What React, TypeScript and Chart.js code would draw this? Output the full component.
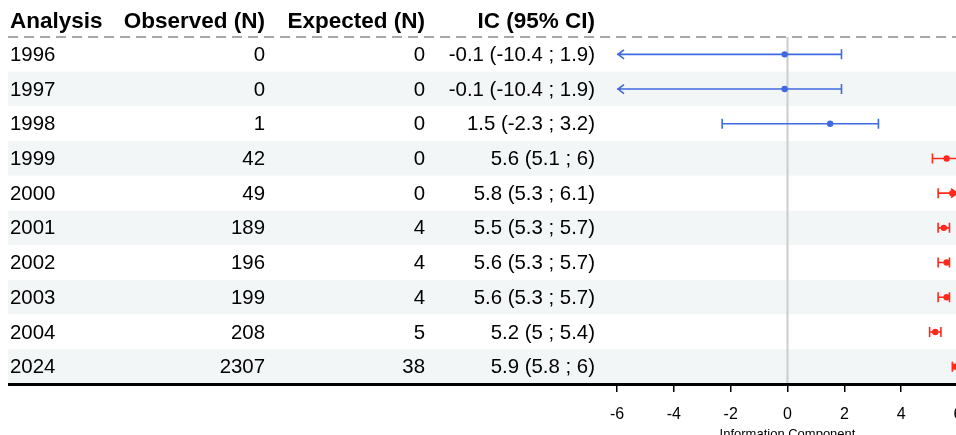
import React, { useEffect, useRef } from 'react';
import { Chart, registerables } from 'chart.js';

Chart.register(...registerables);

// ---- data ----
const years = ['1996', '1997', '1998', '1999', '2000', '2001', '2002', '2003', '2004', '2024'];
const observed = [0, 0, 1, 42, 49, 189, 196, 199, 208, 2307];
const expected = [0, 0, 0, 0, 0, 4, 4, 4, 5, 38];
const ic = [-0.1, -0.1, 1.5, 5.6, 5.8, 5.5, 5.6, 5.6, 5.2, 5.9];
const lower = [-10.4, -10.4, -2.3, 5.1, 5.3, 5.3, 5.3, 5.3, 5, 5.8];
const upper = [1.9, 1.9, 3.2, 6, 6.1, 5.7, 5.7, 5.7, 5.4, 6];
const xTicks = [-6, -4, -2, 0, 2, 4, 6];
const headers = ['Analysis', 'Observed (N)', 'Expected (N)', 'IC (95% CI)'];
const axisTitle = 'Information Component';

const BLUE = '#4169E1';
const RED = '#FF2A1A';
const FONT = '"Liberation Sans", Arial, Helvetica, sans-serif';

const colorFor = (i: number) => (lower[i] > 0 ? RED : BLUE);
const ciText = (i: number) => `${ic[i]} (${lower[i]} ; ${upper[i]})`;

const forestPlugin = {
  id: 'forestTable',
  beforeDatasetsDraw(chart: any) {
    const { ctx, chartArea, scales, width } = chart;
    const x = scales.x;
    const y = scales.y;
    ctx.save();
    // row bands
    years.forEach((_, i) => {
      const top = y.getPixelForValue(i - 0.5);
      const bot = y.getPixelForValue(i + 0.5);
      ctx.fillStyle = i % 2 === 1 ? '#f3f6f7' : '#ffffff';
      ctx.fillRect(0, top, width, bot - top);
    });
    // zero line
    const x0 = x.getPixelForValue(0);
    ctx.strokeStyle = '#cccccc';
    ctx.lineWidth = 2;
    ctx.beginPath();
    ctx.moveTo(x0, chartArea.top);
    ctx.lineTo(x0, chartArea.bottom);
    ctx.stroke();
    // header dashed line
    ctx.strokeStyle = '#a8a8a8';
    ctx.lineWidth = 2;
    ctx.setLineDash([10, 6]);
    ctx.beginPath();
    ctx.moveTo(0, chartArea.top);
    ctx.lineTo(width, chartArea.top);
    ctx.stroke();
    ctx.setLineDash([]);

    // header text
    const colRight = [0, 257, 417, 587];
    ctx.fillStyle = '#000';
    ctx.textBaseline = 'middle';
    ctx.font = `bold 22.5px ${FONT}`;
    headers.forEach((h, c) => {
      ctx.textAlign = c === 0 ? 'left' : 'right';
      ctx.fillText(h, c === 0 ? 2 : colRight[c], 14);
    });
    // body text
    ctx.font = `20.4px ${FONT}`;
    years.forEach((yr, i) => {
      const py = y.getPixelForValue(i) + 1;
      ctx.textAlign = 'left';
      ctx.fillText(yr, 2, py);
      ctx.textAlign = 'right';
      ctx.fillText(String(observed[i]), colRight[1], py);
      ctx.fillText(String(expected[i]), colRight[2], py);
      ctx.fillText(ciText(i), colRight[3], py);
    });

    // error bars
    ctx.save();
    ctx.beginPath();
    ctx.rect(chartArea.left - 2, chartArea.top, chartArea.right - chartArea.left + 4, chartArea.bottom - chartArea.top);
    ctx.clip();
    years.forEach((_, i) => {
      const py = y.getPixelForValue(i);
      const lo = Math.max(lower[i], x.min);
      const hi = Math.min(upper[i], x.max);
      const pl = x.getPixelForValue(lo);
      const ph = x.getPixelForValue(hi);
      ctx.strokeStyle = colorFor(i);
      ctx.lineWidth = 1.6;
      ctx.beginPath();
      ctx.moveTo(pl, py);
      ctx.lineTo(ph, py);
      // left end
      if (lower[i] < x.min) {
        ctx.moveTo(pl + 7, py - 4.5);
        ctx.lineTo(pl + 1, py);
        ctx.lineTo(pl + 7, py + 4.5);
      } else {
        ctx.moveTo(pl, py - 5);
        ctx.lineTo(pl, py + 5);
      }
      // right end
      if (upper[i] > x.max) {
        ctx.moveTo(ph - 7, py - 4.5);
        ctx.lineTo(ph - 1, py);
        ctx.lineTo(ph - 7, py + 4.5);
      } else {
        ctx.moveTo(ph, py - 5);
        ctx.lineTo(ph, py + 5);
      }
      ctx.stroke();
    });
    ctx.restore();
    ctx.restore();
  },
  afterDraw(chart: any) {
    const { ctx, chartArea, width } = chart;
    ctx.save();
    ctx.strokeStyle = '#000';
    ctx.lineWidth = 3;
    ctx.beginPath();
    ctx.moveTo(0, chartArea.bottom + 0.5);
    ctx.lineTo(width, chartArea.bottom + 0.5);
    ctx.stroke();
    ctx.restore();
  },
};

export default function App() {
  const canvasRef = useRef<HTMLCanvasElement | null>(null);

  useEffect(() => {
    document.documentElement.style.overflow = 'hidden';
    const canvas = canvasRef.current;
    if (!canvas) return;
    const chart = new Chart(canvas, {
      type: 'scatter',
      data: {
        datasets: [
          {
            label: 'IC',
            data: ic.map((v, i) => ({ x: v, y: i })),
            pointBackgroundColor: ic.map((_, i) => colorFor(i)),
            pointBorderColor: ic.map((_, i) => colorFor(i)),
            pointRadius: 3.2,
            pointBorderWidth: 0,
            showLine: false,
          },
        ],
      },
      options: {
        responsive: false,
        animation: false,
        devicePixelRatio: 1,
        layout: { padding: { left: 609, right: 50, top: 29, bottom: 0 } },
        plugins: {
          legend: { display: false },
          tooltip: { enabled: false },
        },
        scales: {
          x: {
            type: 'linear',
            min: -6,
            max: 6,
            afterBuildTicks: (scale: any) => {
              scale.ticks = xTicks.map((v) => ({ value: v }));
            },
            afterFit: (scale: any) => {
              scale.height = 64;
            },
            grid: {
              drawOnChartArea: false,
              drawTicks: true,
              tickLength: 8,
              color: '#000',
              lineWidth: 1.5,
            },
            border: { display: false },
            ticks: {
              color: '#000',
              padding: 13,
              font: { family: FONT, size: 16 },
            },
            title: {
              display: true,
              text: axisTitle,
              color: '#000',
              font: { family: FONT, size: 13 },
              padding: { top: 0, bottom: 6 },
            },
          },
          y: {
            type: 'linear',
            min: -0.5,
            max: years.length - 0.5,
            reverse: true,
            display: false,
          },
        },
      },
      plugins: [forestPlugin],
    } as any);
    return () => chart.destroy();
  }, []);

  return (
    <div style={{ position: 'fixed', left: 8, top: 8, width: 948, height: 427, overflow: 'hidden' }}>
      <canvas ref={canvasRef} width={1000} height={440} style={{ display: 'block' }} />
    </div>
  );
}
